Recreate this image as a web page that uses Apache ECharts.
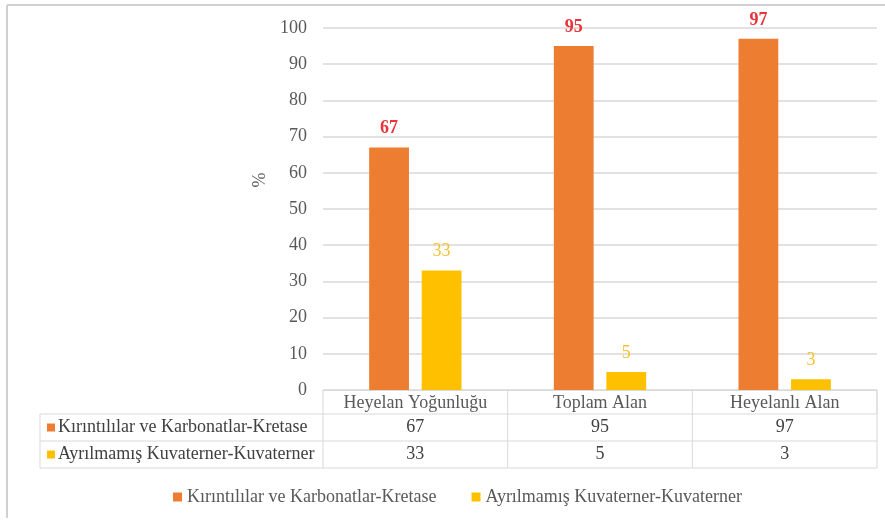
<!DOCTYPE html>
<html>
<head>
<meta charset="utf-8">
<script src="https://cdn.jsdelivr.net/npm/echarts@6/dist/echarts.min.js"></script>
<style>
html, body { margin: 0; padding: 0; background: #fff; }
#main { width: 885px; height: 520px; }
</style>
</head>
<body>
<div id="main"></div>
<script>
var categories = ['Heyelan Yoğunluğu', 'Toplam Alan', 'Heyelanlı Alan'];
var seriesNames = ['Kırıntılılar ve Karbonatlar-Kretase', 'Ayrılmamış Kuvaterner-Kuvaterner'];
var kretase = [67, 95, 97];
var kuvaterner = [33, 5, 3];
var seriesData = [kretase, kuvaterner];
var colors = ['#ED7D31', '#FFC000'];
var labelColors = ['#E8343A', '#F5C12E'];

var font = '"Liberation Serif", "Times New Roman", serif';
var textGray = '#595959';
var lineGray = '#D9D9D9';

var myChart = echarts.init(document.getElementById('main'));

var option = {
  animation: false,
  backgroundColor: '#fff',
  color: colors,
  grid: { left: 323, right: 8, top: 28, bottom: 130 },
  legend: {
    left: 168,
    top: 483,
    itemWidth: 9,
    itemHeight: 9,
    itemGap: 35,
    icon: 'rect',
    textStyle: { fontFamily: font, fontSize: 18, color: textGray },
    data: seriesNames
  },
  xAxis: {
    type: 'category',
    data: categories,
    axisLine: { lineStyle: { color: lineGray, width: 1 } },
    axisTick: { show: false },
    axisLabel: { interval: 0, margin: 4, fontFamily: font, fontSize: 18, color: textGray }
  },
  yAxis: {
    type: 'value',
    min: 0,
    max: 100,
    interval: 10,
    name: '%',
    nameLocation: 'middle',
    nameRotate: 90,
    nameGap: 52,
    nameTextStyle: { fontFamily: font, fontSize: 18, color: textGray, padding: [0, 0, 0, 58] },
    axisLine: { show: false },
    axisTick: { show: false },
    axisLabel: { margin: 16, fontFamily: font, fontSize: 18, color: textGray },
    splitLine: { lineStyle: { color: lineGray, width: 1.5 } }
  },
  series: seriesNames.map(function (name, i) {
    return {
      name: name,
      type: 'bar',
      data: seriesData[i],
      barGap: '32%',
      barCategoryGap: '50%',
      label: {
        show: true,
        position: 'top',
        distance: 10,
        fontFamily: font,
        fontSize: 18,
        fontWeight: i === 0 ? 'bold' : 'normal',
        color: labelColors[i]
      }
    };
  })
};
myChart.setOption(option);

// data table under the axis, placed from the category axis
function buildTable() {
  var c0 = myChart.convertToPixel({ xAxisIndex: 0 }, 0);
  var c1 = myChart.convertToPixel({ xAxisIndex: 0 }, 1);
  var step = c1 - c0;
  var xLeft = c0 - step / 2;
  var xRight = xLeft + step * categories.length;
  var tableLeft = 40;
  var yHead = myChart.convertToPixel({ yAxisIndex: 0 }, 0);
  var rows = [yHead, yHead + 24, yHead + 51, yHead + 78];
  var g = [];
  var ls = { stroke: lineGray, lineWidth: 1 };

  // frame of the picture
  g.push({ type: 'line', shape: { x1: 7, y1: 5, x2: 885, y2: 5 }, style: { stroke: '#D0D0D0', lineWidth: 2 } });
  g.push({ type: 'line', shape: { x1: 7, y1: 5, x2: 7, y2: 518 }, style: { stroke: '#D0D0D0', lineWidth: 2 } });

  // horizontal lines
  g.push({ type: 'line', shape: { x1: xRight, y1: rows[0], x2: xRight, y2: rows[1] }, style: ls });
  for (var r = 1; r < rows.length; r++) {
    g.push({ type: 'line', shape: { x1: tableLeft, y1: rows[r], x2: xRight, y2: rows[r] }, style: ls });
  }
  // vertical lines
  g.push({ type: 'line', shape: { x1: tableLeft, y1: rows[1], x2: tableLeft, y2: rows[3] }, style: ls });
  for (var k = 0; k <= categories.length; k++) {
    var x = xLeft + step * k;
    g.push({ type: 'line', shape: { x1: x, y1: rows[0], x2: x, y2: rows[3] }, style: ls });
  }
  // row headers and values
  for (var s = 0; s < seriesNames.length; s++) {
    var yc = (rows[s + 1] + rows[s + 2]) / 2;
    g.push({ type: 'rect', shape: { x: 47, y: yc - 4, width: 8, height: 8 }, style: { fill: colors[s] } });
    g.push({
      type: 'text', x: 58, y: yc,
      style: { text: seriesNames[s], font: '18px ' + font, fill: '#404040', textVerticalAlign: 'middle' }
    });
    for (var j = 0; j < categories.length; j++) {
      g.push({
        type: 'text', x: c0 + step * j, y: yc,
        style: { text: String(seriesData[s][j]), font: '18px ' + font, fill: '#404040', textAlign: 'center', textVerticalAlign: 'middle' }
      });
    }
  }
  myChart.setOption({ graphic: g });
}
buildTable();
</script>
</body>
</html>
